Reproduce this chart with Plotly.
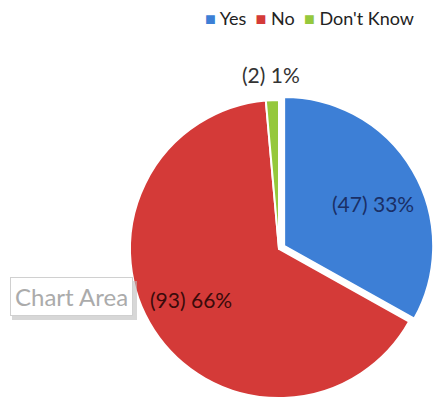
import math
import plotly.graph_objects as go

categories = ["Yes", "No", "Don't Know"]
values = [47, 93, 2]
percent_labels = ["33%", "66%", "1%"]
colors = ["#3D7FD6", "#D43A38", "#95C83C"]
label_colors = ["#1A2F66", "#3A0A0A", "#333333"]
pulls = [0.04, 0, 0]

W, H = 434, 412
FONT = "Lato"

# pie domain (paper fractions)
dom_x = [124 / W, 1.0]
dom_y = [1 - 406 / H, 1 - 92 / H]

fig = go.Figure()
fig.add_trace(go.Pie(
    labels=categories,
    values=values,
    sort=False,
    direction="clockwise",
    rotation=0,
    pull=pulls,
    marker=dict(colors=colors, line=dict(color="white", width=2)),
    textinfo="none",
    domain=dict(x=dom_x, y=dom_y),
    showlegend=False,
    hoverinfo="skip",
))

# slice labels placed along each slice's mid-angle (derived from the values)
cx = (dom_x[0] + dom_x[1]) / 2 * W
cy = (1 - (dom_y[0] + dom_y[1]) / 2) * H
r = min((dom_x[1] - dom_x[0]) * W, (dom_y[1] - dom_y[0]) * H) / 2 / (1 + max(pulls))
radial_frac = [0.66, 0.68, 1.17]
angle_shift = [0.08, 0.05, 0.0]  # small angular nudges (radians)
total = sum(values)
cum = 0
for name, v, pct, col, p, f, da in zip(categories, values, percent_labels, label_colors,
                                        pulls, radial_frac, angle_shift):
    mid = (cum + v / 2) / total * 2 * math.pi + da
    cum += v
    d = r * (f + p)
    px = cx + d * math.sin(mid)
    py = cy - d * math.cos(mid)
    fig.add_annotation(
        x=px / W, y=1 - py / H, xref="paper", yref="paper",
        xanchor="center", yanchor="middle", showarrow=False,
        text=f"({v}) {pct}",
        font=dict(family=FONT, size=21, color=col),
    )

# legend row built from the category / colour lists
legend_text = "  ".join(
    f"<span style='color:{c}'>■</span> {name}" for name, c in zip(categories, colors)
)
fig.add_annotation(
    x=416 / W, y=1 - 18 / H, xref="paper", yref="paper",
    xanchor="right", yanchor="middle",
    text=legend_text, showarrow=False,
    font=dict(family=FONT, size=18, color="#222222"),
)

# "Chart Area" tooltip with a soft shadow
fig.add_shape(type="rect", xref="paper", yref="paper",
              x0=12 / W, x1=137 / W, y0=1 - 320 / H, y1=1 - 281 / H,
              fillcolor="#BDBDBD", line=dict(width=0), layer="above", opacity=0.6)
fig.add_annotation(
    x=10 / W, y=1 - 296 / H, xref="paper", yref="paper",
    xanchor="left", yanchor="middle",
    text="Chart Area", showarrow=False,
    font=dict(family=FONT, size=24, color="#ABABAB"),
    bgcolor="white", bordercolor="#D0D0D0", borderwidth=1, borderpad=4,
)

fig.update_layout(
    width=W, height=H,
    margin=dict(l=0, r=0, t=0, b=0),
    paper_bgcolor="white",
)

fig.write_html("out.html", config={"displayModeBar": False},
               post_script="document.body.style.margin='0';")
